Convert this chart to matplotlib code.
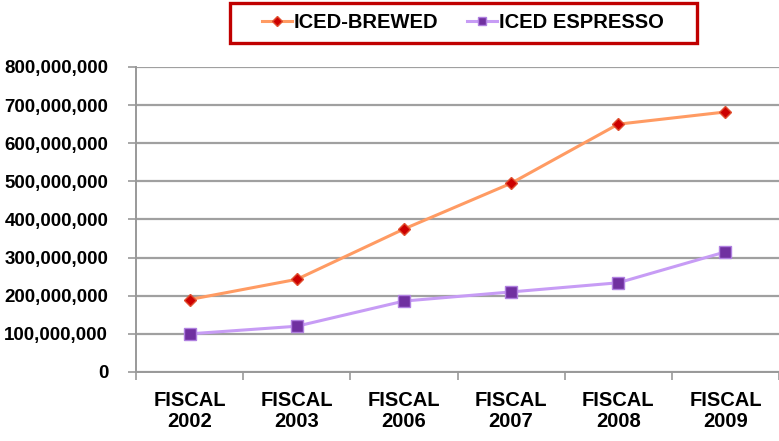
import matplotlib.pyplot as plt
from matplotlib.patches import Rectangle
from matplotlib.ticker import FuncFormatter

years = ["FISCAL\n2002", "FISCAL\n2003", "FISCAL\n2006", "FISCAL\n2007", "FISCAL\n2008", "FISCAL\n2009"]
iced_brewed = [190e6, 243e6, 375e6, 495e6, 650e6, 682e6]
iced_espresso = [100e6, 120e6, 186e6, 210e6, 234e6, 315e6]

plt.rcParams["font.family"] = ["Liberation Sans", "DejaVu Sans"]
plt.rcParams["font.weight"] = "bold"

fig = plt.figure(figsize=(7.79, 4.41), dpi=100)
ax = fig.add_axes([0.1746, 0.1565, 0.8254, 0.6916])

x = range(len(years))
ax.plot(x, iced_brewed, color="#FF9B63", lw=2.2, marker="D", ms=6,
        mfc="#CC0000", mec="#E05030", label="ICED-BREWED", zorder=3)
ax.plot(x, iced_espresso, color="#C79CF5", lw=2.2, marker="s", ms=8,
        mfc="#7030A0", mec="#B080E0", label="ICED ESPRESSO", zorder=3)

ax.set_xlim(-0.5, 5.5)
ax.set_ylim(0, 800e6)
ax.set_yticks([i * 100e6 for i in range(9)])
ax.yaxis.set_major_formatter(FuncFormatter(lambda v, p: f"{int(v):,}"))
ax.set_xticks(list(x))
ax.set_xticklabels(years, fontsize=14.5, fontweight="bold", linespacing=1.1)
ax.set_xticks([i - 0.5 for i in range(7)], minor=True)
ax.tick_params(axis="x", which="major", length=0, pad=14)
ax.tick_params(axis="x", which="minor", length=6, color="#999999", width=1.2)
ax.tick_params(axis="y", length=6, color="#999999", width=1.2, labelsize=13.5, pad=14)
for lbl in ax.get_yticklabels():
    lbl.set_fontweight("bold")

ax.grid(axis="y", color="#A0A0A0", lw=1.6)
ax.set_axisbelow(True)
for s in ["top", "right"]:
    ax.spines[s].set_visible(False)
for s in ["left", "bottom"]:
    ax.spines[s].set_color("#999999")
    ax.spines[s].set_linewidth(1.4)

# legend entries, with a separate red frame around them
fig.legend(loc="center", bbox_to_anchor=(0.594, 0.948), ncol=2, frameon=False,
           prop={"weight": "bold", "size": 14.5}, handlelength=1.5,
           columnspacing=1.4, handletextpad=0.1, markerscale=0.8)
fig.patches.append(Rectangle((230 / 779, 1 - 43 / 441), 467 / 779, 40 / 441,
                             transform=fig.transFigure, fill=False,
                             edgecolor="#C00000", lw=2.4))

fig.savefig("out.png", dpi=100)
